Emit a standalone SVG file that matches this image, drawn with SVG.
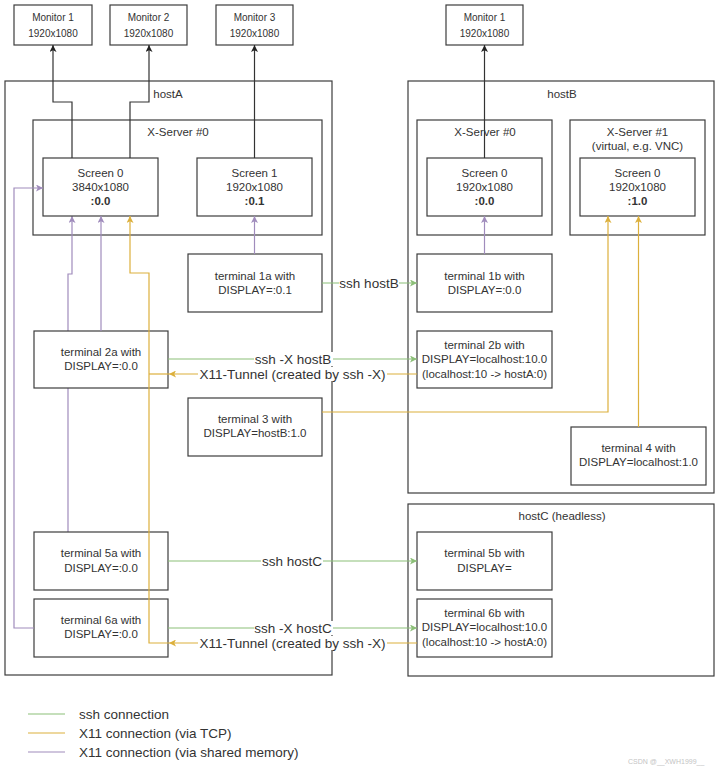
<svg xmlns="http://www.w3.org/2000/svg" width="720" height="769" viewBox="0 0 720 769">
<style>
  .box{fill:#fff;stroke:#3c3c3c;stroke-width:1.2}
  .cont{fill:none;stroke:#3c3c3c;stroke-width:1.2}
  .t{font-family:"Liberation Sans",Arial,sans-serif;font-size:11.5px;fill:#333;text-anchor:middle;dominant-baseline:central}
  .m{font-size:10px}
  .b{font-weight:bold}
  .el{font-family:"Liberation Sans",Arial,sans-serif;font-size:13.5px;fill:#333;text-anchor:middle;dominant-baseline:central}
  .lg{font-family:"Liberation Sans",Arial,sans-serif;font-size:13.5px;fill:#333;dominant-baseline:central}
  .k{fill:none;stroke:#333;stroke-width:1.2}
  .g{fill:none;stroke:#8cbf78;stroke-width:1.2}
  .y{fill:none;stroke:#dcb03c;stroke-width:1.2}
  .p{fill:none;stroke:#a08cbc;stroke-width:1.2}
  .lbg{fill:#fff}
</style>
<defs>
  <marker id="ak" viewBox="0 0 10 10" refX="10" refY="5" markerWidth="7" markerHeight="7" markerUnits="userSpaceOnUse" orient="auto"><path d="M0,0 L10,5 L0,10 L2.5,5 z" fill="#222"/></marker>
  <marker id="ag" viewBox="0 0 10 10" refX="10" refY="5" markerWidth="7" markerHeight="7" markerUnits="userSpaceOnUse" orient="auto"><path d="M0,0 L10,5 L0,10 L2.5,5 z" fill="#8cbf78"/></marker>
  <marker id="ay" viewBox="0 0 10 10" refX="10" refY="5" markerWidth="7" markerHeight="7" markerUnits="userSpaceOnUse" orient="auto"><path d="M0,0 L10,5 L0,10 L2.5,5 z" fill="#dcb03c"/></marker>
  <marker id="ap" viewBox="0 0 10 10" refX="10" refY="5" markerWidth="7" markerHeight="7" markerUnits="userSpaceOnUse" orient="auto"><path d="M0,0 L10,5 L0,10 L2.5,5 z" fill="#a08cbc"/></marker>
</defs>
<rect width="720" height="769" fill="#fff"/>

<!-- containers -->
<g id="hostA"><rect class="cont" x="5" y="81" width="327" height="594"/><text class="t" x="168" y="94">hostA</text></g>
<g id="hostB"><rect class="cont" x="408" y="81" width="306" height="412"/><text class="t" x="562" y="94">hostB</text></g>
<g id="hostC"><rect class="cont" x="408" y="504" width="306" height="172"/><text class="t" x="562" y="516">hostC (headless)</text></g>
<g id="xserverA0"><rect class="box" x="33" y="120" width="289" height="115"/><text class="t" x="178" y="132">X-Server #0</text></g>
<g id="xserverB0"><rect class="box" x="417" y="120" width="135" height="115"/><text class="t" x="485" y="132">X-Server #0</text></g>
<g id="xserverB1"><rect class="box" x="570" y="120" width="135" height="115"/><text class="t" x="637.5" y="132">X-Server #1</text><text class="t" x="637.5" y="146">(virtual, e.g. VNC)</text></g>

<!-- connectors behind nodes -->
<g id="connectors-back">
  <path class="p" d="M68,532 V274 H72 V216" marker-end="url(#ap)"/>
</g>

<!-- nodes -->
<g id="monitorA1"><rect class="box" x="14" y="5" width="78" height="40"/><text class="t m" x="53" y="17">Monitor 1</text><text class="t m" x="53" y="33">1920x1080</text></g>
<g id="monitorA2"><rect class="box" x="110" y="5" width="77" height="40"/><text class="t m" x="148.5" y="17">Monitor 2</text><text class="t m" x="148.5" y="33">1920x1080</text></g>
<g id="monitorA3"><rect class="box" x="216" y="5" width="77" height="40"/><text class="t m" x="254.5" y="17">Monitor 3</text><text class="t m" x="254.5" y="33">1920x1080</text></g>
<g id="monitorB1"><rect class="box" x="446" y="5" width="77" height="40"/><text class="t m" x="484.5" y="17">Monitor 1</text><text class="t m" x="484.5" y="33">1920x1080</text></g>

<g id="screenA0"><rect class="box" x="43" y="158" width="115" height="58"/><text class="t" x="100.5" y="173">Screen 0</text><text class="t" x="100.5" y="187">3840x1080</text><text class="t b" x="100.5" y="201">:0.0</text></g>
<g id="screenA1"><rect class="box" x="197" y="158" width="115" height="58"/><text class="t" x="254.5" y="173">Screen 1</text><text class="t" x="254.5" y="187">1920x1080</text><text class="t b" x="254.5" y="201">:0.1</text></g>
<g id="screenB0"><rect class="box" x="427" y="158" width="115" height="58"/><text class="t" x="484.5" y="173">Screen 0</text><text class="t" x="484.5" y="187">1920x1080</text><text class="t b" x="484.5" y="201">:0.0</text></g>
<g id="screenB1"><rect class="box" x="580" y="158" width="115" height="58"/><text class="t" x="637.5" y="173">Screen 0</text><text class="t" x="637.5" y="187">1920x1080</text><text class="t b" x="637.5" y="201">:1.0</text></g>

<g id="term1a"><rect class="box" x="188" y="254" width="134" height="58"/><text class="t" x="255" y="276">terminal 1a with</text><text class="t" x="255" y="290">DISPLAY=:0.1</text></g>
<g id="term2a"><rect class="box" x="34" y="331" width="134" height="57"/><text class="t" x="101" y="352">terminal 2a with</text><text class="t" x="101" y="366">DISPLAY=:0.0</text></g>
<g id="term3"><rect class="box" x="188" y="398" width="134" height="58"/><text class="t" x="255" y="419">terminal 3 with</text><text class="t" x="255" y="433">DISPLAY=hostB:1.0</text></g>
<g id="term5a"><rect class="box" x="34" y="532" width="134" height="58"/><text class="t" x="101" y="553">terminal 5a with</text><text class="t" x="101" y="568">DISPLAY=:0.0</text></g>
<g id="term6a"><rect class="box" x="34" y="599" width="134" height="58"/><text class="t" x="101" y="620">terminal 6a with</text><text class="t" x="101" y="634">DISPLAY=:0.0</text></g>

<g id="term1b"><rect class="box" x="417" y="254" width="135" height="58"/><text class="t" x="484.5" y="276">terminal 1b with</text><text class="t" x="484.5" y="290">DISPLAY=:0.0</text></g>
<g id="term2b"><rect class="box" x="417" y="331" width="135" height="57"/><text class="t" x="484.5" y="345">terminal 2b with</text><text class="t" x="484.5" y="359">DISPLAY=localhost:10.0</text><text class="t" x="484.5" y="374">(localhost:10 -&gt; hostA:0)</text></g>
<g id="term4"><rect class="box" x="571" y="427" width="135" height="58"/><text class="t" x="638.5" y="448">terminal 4 with</text><text class="t" x="638.5" y="462">DISPLAY=localhost:1.0</text></g>
<g id="term5b"><rect class="box" x="417" y="532" width="135" height="58"/><text class="t" x="484.5" y="553">terminal 5b with</text><text class="t" x="484.5" y="568">DISPLAY=</text></g>
<g id="term6b"><rect class="box" x="417" y="599" width="135" height="58"/><text class="t" x="484.5" y="613">terminal 6b with</text><text class="t" x="484.5" y="627">DISPLAY=localhost:10.0</text><text class="t" x="484.5" y="642">(localhost:10 -&gt; hostA:0)</text></g>

<!-- connectors -->
<g id="connectors">
  <path class="k" d="M72,158 V102 H53 V45" marker-end="url(#ak)"/>
  <path class="k" d="M130,158 V102 H149 V45" marker-end="url(#ak)"/>
  <path class="k" d="M254.5,158 V45" marker-end="url(#ak)"/>
  <path class="k" d="M484.5,158 V45" marker-end="url(#ak)"/>

  <path class="p" d="M254.5,254 V216" marker-end="url(#ap)"/>
  <path class="p" d="M484.5,254 V216" marker-end="url(#ap)"/>
  <path class="p" d="M101,331 V216" marker-end="url(#ap)"/>
  <path class="p" d="M34,628 H14 V188 H43" marker-end="url(#ap)"/>

  <path class="y" d="M169,643 H149 V273 H130 V216" marker-end="url(#ay)"/>
  <path class="y" d="M169,374 H149"/>
  <path class="y" d="M417,374 H169" marker-end="url(#ay)"/>
  <path class="y" d="M417,643 H169" marker-end="url(#ay)"/>
  <path class="y" d="M322,412 H608 V216" marker-end="url(#ay)"/>
  <path class="y" d="M638.5,427 V216" marker-end="url(#ay)"/>

  <path class="g" d="M322,283 H417" marker-end="url(#ag)"/>
  <path class="g" d="M168,359 H417" marker-end="url(#ag)"/>
  <path class="g" d="M168,561 H417" marker-end="url(#ag)"/>
  <path class="g" d="M168,628 H417" marker-end="url(#ag)"/>

  <rect class="lbg" x="339" y="276" width="60" height="14"/><text class="el" x="369" y="283">ssh hostB</text>
  <rect class="lbg" x="254" y="352" width="79" height="14"/><text class="el" x="293" y="359">ssh -X hostB</text>
  <rect class="lbg" x="198" y="367" width="189" height="14"/><text class="el" x="292.5" y="374">X11-Tunnel (created by ssh -X)</text>
  <rect class="lbg" x="261" y="554" width="62" height="14"/><text class="el" x="292" y="561">ssh hostC</text>
  <rect class="lbg" x="254" y="621" width="79" height="14"/><text class="el" x="293" y="628">ssh -X hostC</text>
  <rect class="lbg" x="198" y="636" width="189" height="14"/><text class="el" x="292.5" y="643">X11-Tunnel (created by ssh -X)</text>
</g>

<!-- legend -->
<g id="legend">
  <line class="g" x1="28" y1="714" x2="65" y2="714"/><text class="lg" x="79" y="714">ssh connection</text>
  <line class="y" x1="28" y1="733" x2="65" y2="733"/><text class="lg" x="79" y="733">X11 connection (via TCP)</text>
  <line class="p" x1="28" y1="752" x2="65" y2="752"/><text class="lg" x="79" y="752">X11 connection (via shared memory)</text>
</g>
<text x="628" y="764" font-family="'Liberation Sans',Arial,sans-serif" font-size="7" fill="#c4c4c4">CSDN @__XWH1999__</text>
</svg>
